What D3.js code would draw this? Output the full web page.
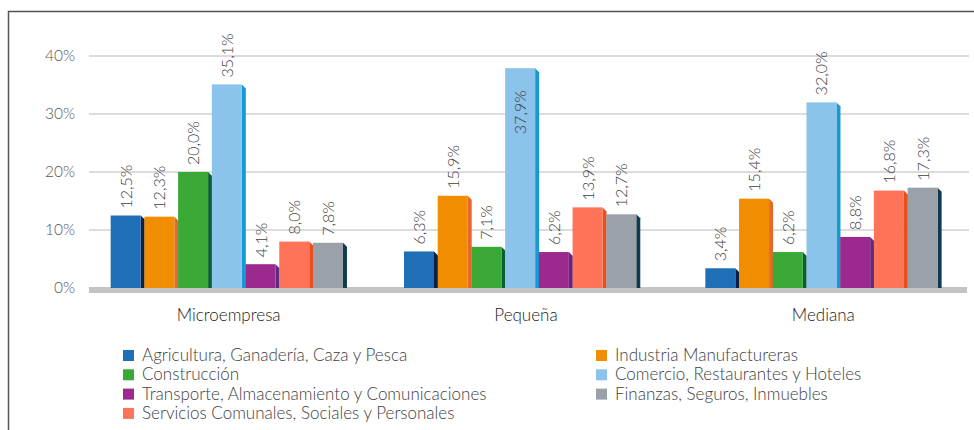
<!DOCTYPE html>
<html>
<head>
<meta charset="utf-8">
<script src="https://cdn.jsdelivr.net/npm/d3@7"></script>
<style>
  body { margin: 0; background: #fff; }
  svg { display: block; font-family: Lato, "Open Sans", sans-serif; font-weight: 300; }
</style>
</head>
<body>
<div id="root"></div>
<script>
const categories = ["Microempresa", "Pequeña", "Mediana"];
const sectors = [
  "Agricultura, Ganadería, Caza y Pesca",
  "Industria Manufactureras",
  "Construcción",
  "Comercio, Restaurantes y Hoteles",
  "Transporte, Almacenamiento y Comunicaciones",
  "Servicios Comunales, Sociales y Personales",
  "Finanzas, Seguros, Inmuebles"
];
const agricultura = [12.5, 6.3, 3.4];
const industria = [12.3, 15.9, 15.4];
const construccion = [20.0, 7.1, 6.2];
const comercio = [35.1, 37.9, 32.0];
const transporte = [4.1, 6.2, 8.8];
const servicios = [8.0, 13.9, 16.8];
const finanzas = [7.8, 12.7, 17.3];
const yTicks = [0, 10, 20, 30, 40];

// legend columns: which sector goes in which slot
const legendLeft = [0, 2, 4, 5];
const legendRight = [1, 3, 6];

const seriesValues = [agricultura, industria, construccion, comercio, transporte, servicios, finanzas];
const faceColors = ["#1f6fb6", "#f18d00", "#3aa935", "#8bc3ea", "#9c2a8e", "#ff7359", "#9aa1a8"];
const sideColors = ["#0b1f48", "#e8672a", "#0c5e30", "#159ad6", "#5c2a82", "#e94e1c", "#0f3a51"];

const w = 974;
const h = 430;

const svg = d3.select("#root")
  .append("svg")
  .attr("width", w)
  .attr("height", h);

// frame
svg.append("path")
  .attr("d", `M8.5,${h} L8.5,11.5 L${w},11.5`)
  .attr("fill", "none")
  .attr("stroke", "#555")
  .attr("stroke-width", 1.5);

const yScale = d3.scaleLinear()
  .domain([0, 40])
  .range([288, 56]);

const xScale = d3.scaleBand()
  .domain(categories)
  .range([80, 972]);

const innerWidth = 236;
const xInner = d3.scaleBand()
  .domain(d3.range(sectors.length))
  .range([0, innerWidth]);

// gridlines
svg.selectAll(".grid")
  .data(yTicks.filter(d => d > 0))
  .enter()
  .append("line")
  .attr("class", "grid")
  .attr("x1", 89)
  .attr("x2", 969)
  .attr("y1", d => yScale(d))
  .attr("y2", d => yScale(d))
  .attr("stroke", "#dcdcdc")
  .attr("stroke-width", 2);

// baseline band
svg.append("rect")
  .attr("x", 89)
  .attr("y", yScale(0) - 1)
  .attr("width", 878)
  .attr("height", 6)
  .attr("fill", "#c4c4c4");

// y labels
svg.selectAll(".ylab")
  .data(yTicks)
  .enter()
  .append("text")
  .attr("class", "ylab")
  .attr("x", 75)
  .attr("y", d => yScale(d))
  .attr("dy", "0.35em")
  .attr("text-anchor", "end")
  .attr("font-size", 15.5)
  .attr("fill", "#555")
  .text(d => d + "%");

const bars = [];
categories.forEach((c, ci) => {
  seriesValues.forEach((vals, si) => {
    bars.push({ cat: c, s: si, v: vals[ci] });
  });
});

const barW = 30;
const side = 4;
const groupStart = c => xScale(c) + (xScale.bandwidth() - innerWidth) / 2 - (c === "Pequeña" ? 4 : 0);

const g = svg.append("g");

g.selectAll(".side")
  .data(bars)
  .enter()
  .append("polygon")
  .attr("class", "side")
  .attr("points", d => {
    const x = groupStart(d.cat) + xInner(d.s) + barW;
    const t = yScale(d.v);
    const b = yScale(0);
    return `${x},${t} ${x + side},${t + side} ${x + side},${b} ${x},${b}`;
  })
  .attr("fill", d => sideColors[d.s]);

g.selectAll(".bar")
  .data(bars)
  .enter()
  .append("rect")
  .attr("class", "bar")
  .attr("x", d => groupStart(d.cat) + xInner(d.s))
  .attr("y", d => yScale(d.v))
  .attr("width", barW)
  .attr("height", d => yScale(0) - yScale(d.v))
  .attr("fill", d => faceColors[d.s]);

// value labels
g.selectAll(".val")
  .data(bars)
  .enter()
  .append("text")
  .attr("class", "val")
  .attr("transform", d => {
    const x = groupStart(d.cat) + xInner(d.s) + barW / 2 + 6;
    const inside = d.v > 36;
    const y = inside ? yScale(d.v) + 66 : yScale(d.v) - 7;
    return `translate(${x},${y}) rotate(-90)`;
  })
  .attr("font-size", 16)
  .attr("fill", "#404040")
  .text(d => d3.format(".1f")(d.v).replace(".", ",") + "%");

// category labels
svg.selectAll(".cat")
  .data(categories)
  .enter()
  .append("text")
  .attr("class", "cat")
  .attr("x", d => xScale(d) + xScale.bandwidth() / 2)
  .attr("y", 321)
  .attr("text-anchor", "middle")
  .attr("font-size", 17)
  .attr("fill", "#222")
  .text(d => d);

// legend
const legendItems = legendLeft.map((s, row) => ({ s, x: 123, y: 355 + row * 19.3 }))
  .concat(legendRight.map((s, row) => ({ s, x: 596, y: 355 + row * 19.3 })));

const legend = svg.append("g").attr("id", "legend");

legend.selectAll("rect")
  .data(legendItems)
  .enter()
  .append("rect")
  .attr("x", d => d.x)
  .attr("y", d => d.y - 5)
  .attr("width", 11)
  .attr("height", 11)
  .attr("fill", d => faceColors[d.s]);

legend.selectAll("text")
  .data(legendItems)
  .enter()
  .append("text")
  .attr("x", d => d.x + 19)
  .attr("y", d => d.y)
  .attr("dy", "0.35em")
  .attr("font-size", 17)
  .attr("fill", "#404040")
  .text(d => sectors[d.s]);
</script>
</body>
</html>
